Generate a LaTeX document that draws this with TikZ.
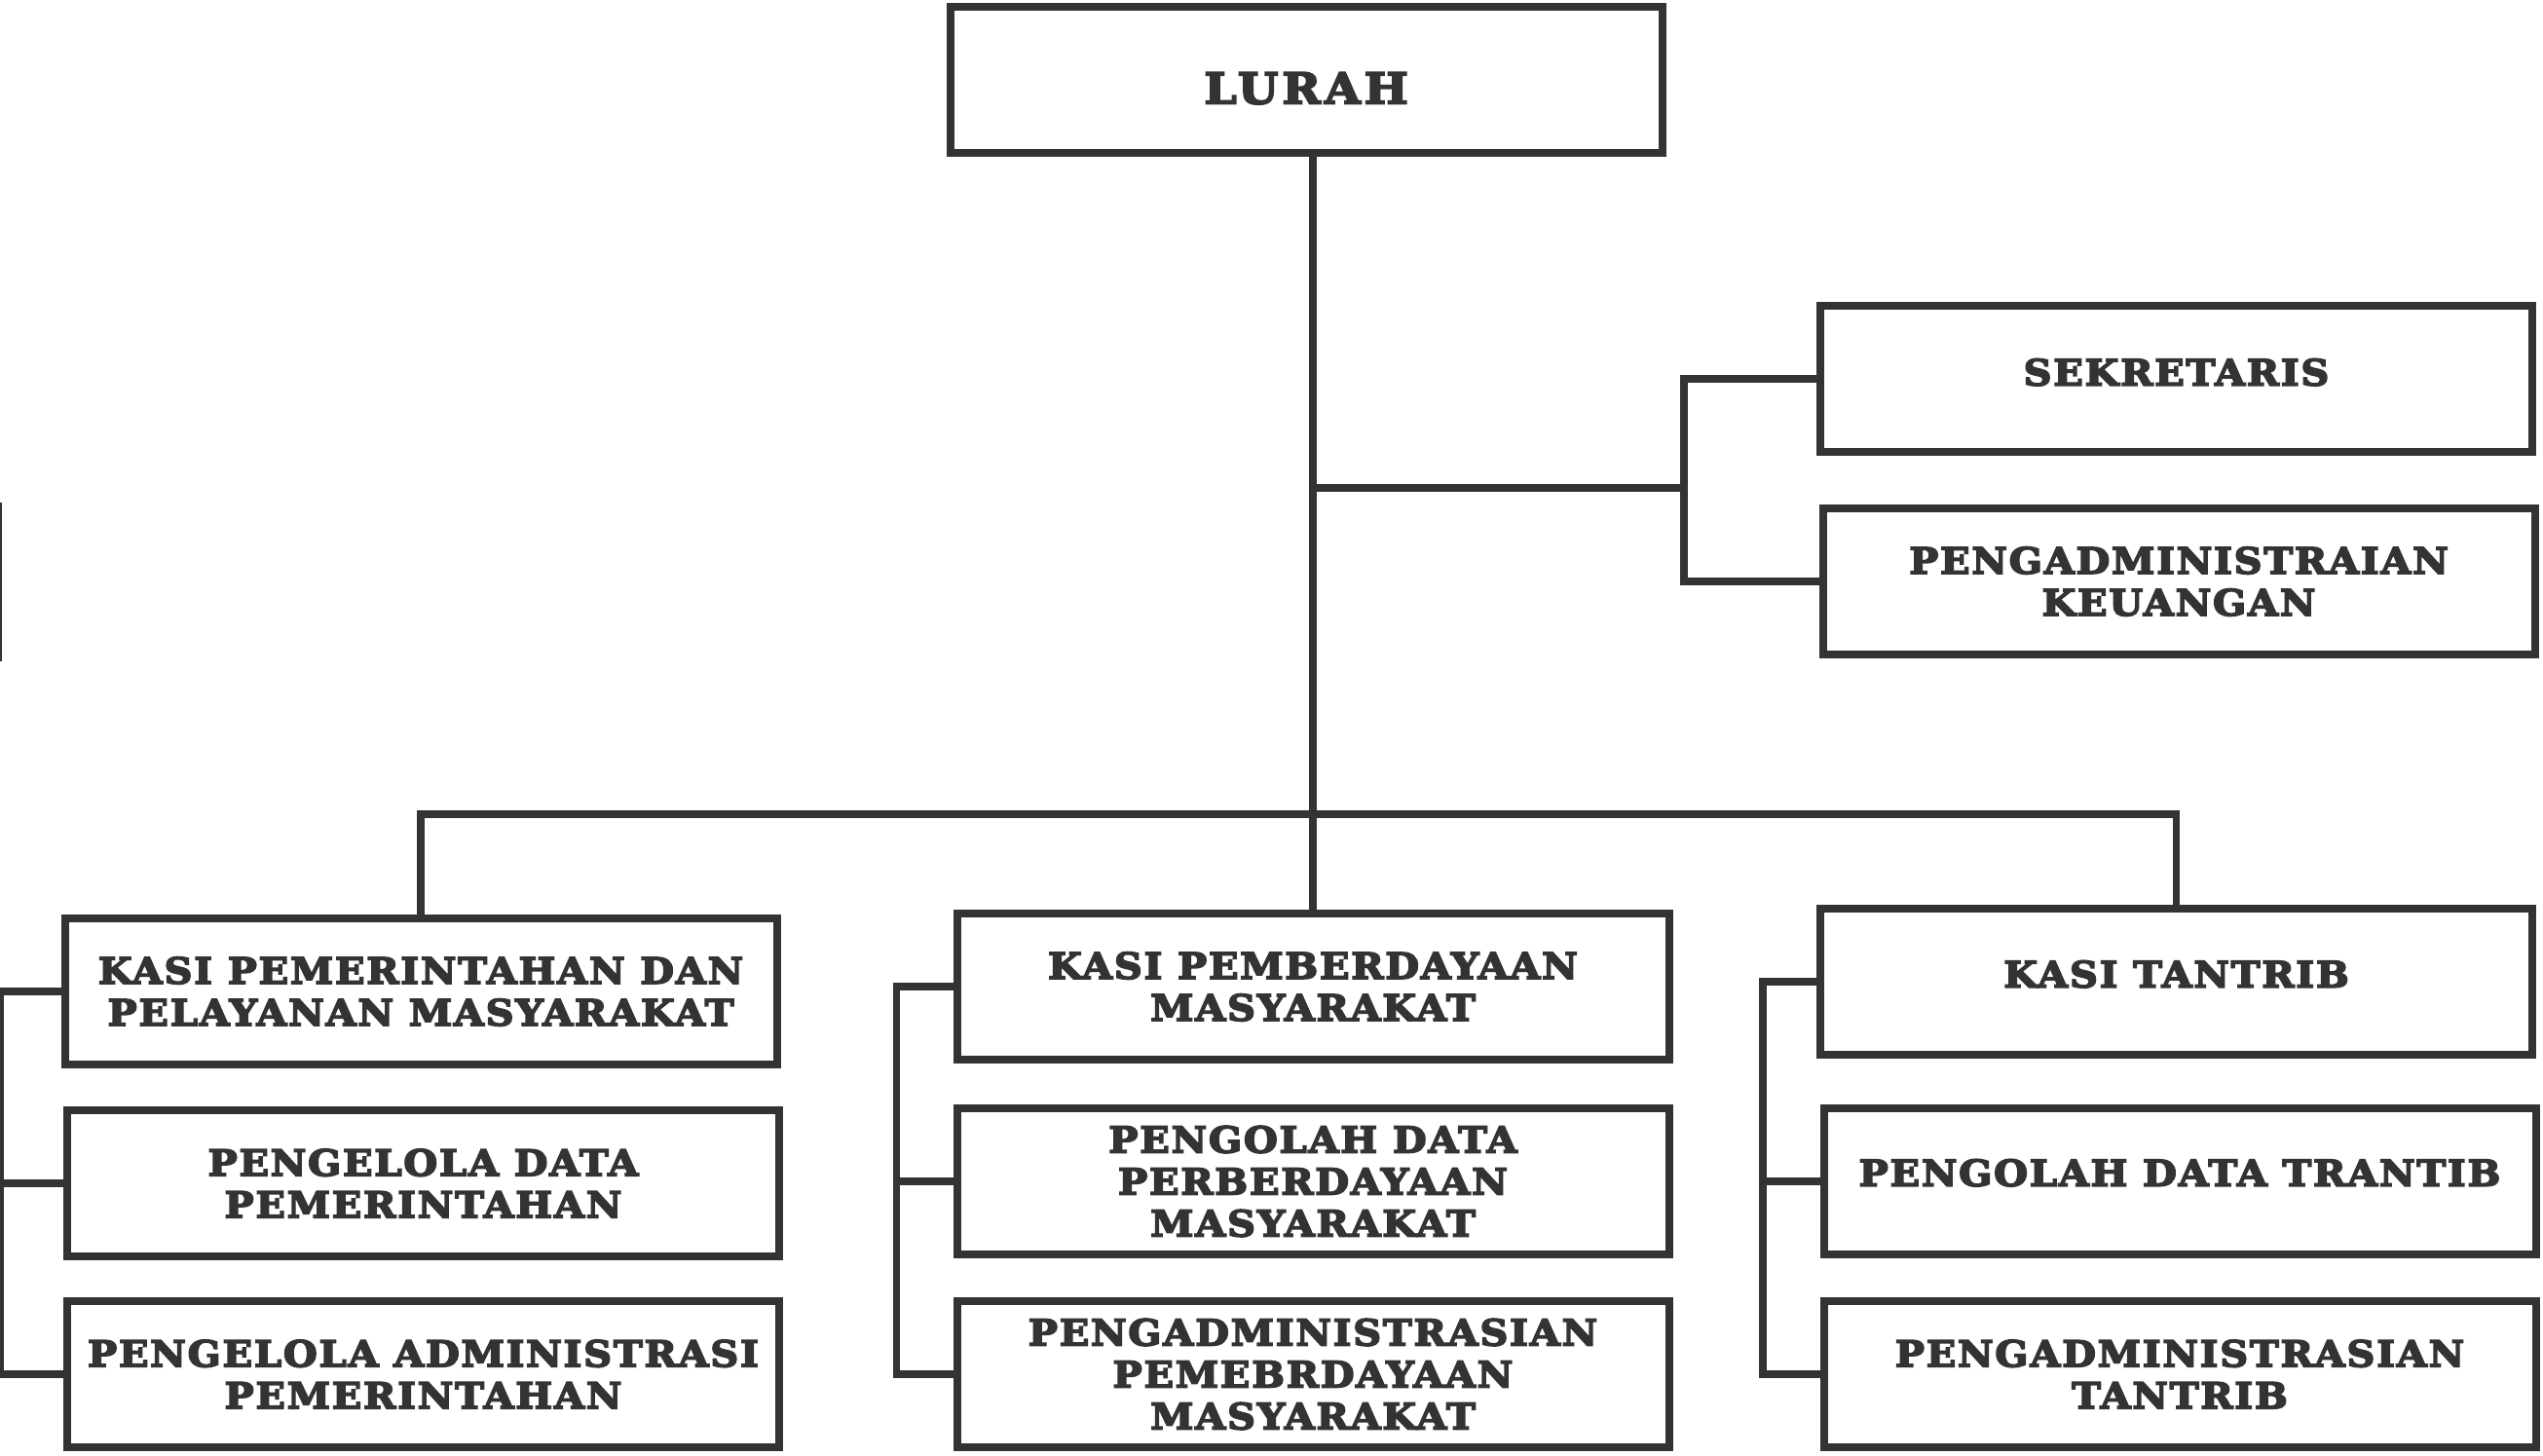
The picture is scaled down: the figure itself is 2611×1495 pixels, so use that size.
\documentclass[tikz,border=0pt]{standalone}
\usepackage{fontspec}
\setmainfont{DejaVu Serif}[LetterSpace=5, BoldFeatures={FakeBold=4.5, FakeStretch=1.08}]
\definecolor{garis}{RGB}{52,50,51}
\tikzset{
  kotak/.style={draw=garis, line width=8pt, minimum width=731pt, minimum height=150pt,
    inner sep=0pt, align=center, text=garis, font=\fontsize{37}{43}\selectfont\bfseries},
  link/.style={draw=garis, line width=7.5pt}
}
\begin{document}
\begin{tikzpicture}[x=1pt,y=-1pt]
		%Hintergrund
		\useasboundingbox [fill=white] (0,0) rectangle (2611,1495);
		% Pimpinan
		\node [kotak, text height=48pt, text depth=0pt, font=\fontsize{44}{50}\selectfont\bfseries\addfontfeature{LetterSpace=9}] (lurah) at (1341,82.5) {LURAH};
		\node [kotak] (sekre) at (2234.5,389) {\raisebox{14pt}{SEKRETARIS}};
		\node [kotak] (keu) at (2237,597) {PENGADMINISTRAIAN\\KEUANGAN};
		% Kasi Pemerintahan
		\node [kotak] (kasipm) at (432,1018) {KASI PEMERINTAHAN DAN\\PELAYANAN MASYARAKAT};
		\node [kotak] (datapm) at (434.5,1215) {PENGELOLA DATA\\PEMERINTAHAN};
		\node [kotak] (admpm) at (434.5,1411) {PENGELOLA ADMINISTRASI\\PEMERINTAHAN};
		% Kasi Pemberdayaan
		\node [kotak] (kasipb) at (1348,1013) {KASI PEMBERDAYAAN\\MASYARAKAT};
		\node [kotak] (datapb) at (1348,1213) {PENGOLAH DATA\\PERBERDAYAAN\\MASYARAKAT};
		\node [kotak] (admpb) at (1348,1411) {PENGADMINISTRASIAN\\PEMEBRDAYAAN\\MASYARAKAT};
		% Kasi Tantrib
		\node [kotak] (kasitt) at (2234.5,1008) {\raisebox{16pt}{KASI TANTRIB}};
		\node [kotak] (datatt) at (2238,1213) {\raisebox{18pt}{PENGOLAH DATA TRANTIB}};
		\node [kotak] (admtt) at (2238,1411) {PENGADMINISTRASIAN\\TANTRIB};
		% Garis komando
		\coordinate (bus) at (0,836);
		\coordinate (cab) at (0,501);
		\draw [link] (kasipb.north |- lurah.south) -- (kasipb.north);
		\draw [link] (kasipm.north) -- (kasipm.north |- bus) -- (kasitt.north |- bus) -- (kasitt.north);
		% Sekretariat
		\draw [link] (kasipb.north |- cab) -- ++(384,0) coordinate (srail);
		\draw [link] (sekre.west) -- ++(-136,0) |- (keu.west);
		% Staf per seksi
		\draw [link] (kasipm.west) -- ++(-62,0) coordinate (rpm) |- (admpm.west);
		\draw [link] (datapm.west) -- (datapm.west -| rpm);
		\draw [link] (kasipb.west) -- ++(-58,0) coordinate (rpb) |- (admpb.west);
		\draw [link] (datapb.west) -- (datapb.west -| rpb);
		\draw [link] (kasitt.west) -- ++(-55,0) coordinate (rtt) |- (admtt.west);
		\draw [link] (datatt.west) -- (datatt.west -| rtt);
		% Rand
		\draw [draw=garis, line width=2pt] (1,516) -- (1,679);
\end{tikzpicture}
\end{document}
